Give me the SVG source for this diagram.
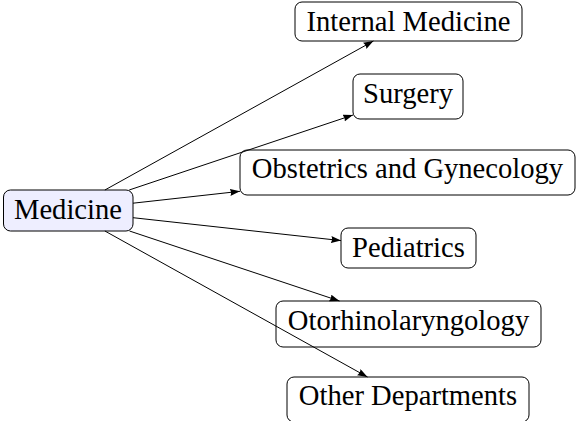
<svg xmlns="http://www.w3.org/2000/svg" width="576" height="421" viewBox="0 0 576 421">
<style>
.box{fill:#ffffff;stroke:#000000;stroke-width:1}
.root{fill:#eeeeff;stroke:#000000;stroke-width:1}
.lbl{font-family:'Liberation Serif',serif;font-size:28.6px;fill:#000000;text-anchor:middle}
.edge{stroke:#000000;stroke-width:1;fill:none;marker-end:url(#arr)}
</style>
<defs>
<marker id="arr" markerUnits="userSpaceOnUse" markerWidth="11" markerHeight="8" refX="10" refY="3.5" orient="auto">
<path d="M0,0 L10,3.5 L0,7 Q2,3.5 0,0 z" fill="#000000"/>
</marker>
</defs>
<g id="medicine">
<rect class="root" x="3.5" y="190" width="129.5" height="41" rx="7"/>
<text class="lbl" x="68" y="219">Medicine</text>
</g>
<g id="internal-medicine">
<rect class="box" x="295" y="2" width="227" height="39" rx="7"/>
<text class="lbl" x="408.5" y="31">Internal Medicine</text>
</g>
<g id="surgery">
<rect class="box" x="353" y="74" width="110" height="45" rx="7"/>
<text class="lbl" x="408" y="103">Surgery</text>
</g>
<g id="obstetrics">
<rect class="box" x="240" y="150" width="335" height="45" rx="7"/>
<text class="lbl" x="407.5" y="178">Obstetrics and Gynecology</text>
</g>
<g id="pediatrics">
<rect class="box" x="341" y="228" width="135" height="40" rx="7"/>
<text class="lbl" x="408.5" y="257">Pediatrics</text>
</g>
<g id="otorhinolaryngology">
<rect class="box" x="276" y="301" width="265" height="46" rx="7"/>
<text class="lbl" x="408.5" y="330">Otorhinolaryngology</text>
</g>
<g id="other-departments">
<rect class="box" x="287" y="377" width="242" height="45" rx="7"/>
<text class="lbl" x="408" y="405">Other Departments</text>
</g>
<g id="connectors">
<line class="edge" x1="104.9" y1="190" x2="373.4" y2="41"/>
<line class="edge" x1="129.2" y1="190" x2="353" y2="115"/>
<line class="edge" x1="133" y1="203.2" x2="240" y2="191.3"/>
<line class="edge" x1="133" y1="217.7" x2="341" y2="240.6"/>
<line class="edge" x1="129.5" y1="231" x2="339.5" y2="301"/>
<line class="edge" x1="104.9" y1="231" x2="367.5" y2="377"/>
</g>
</svg>
